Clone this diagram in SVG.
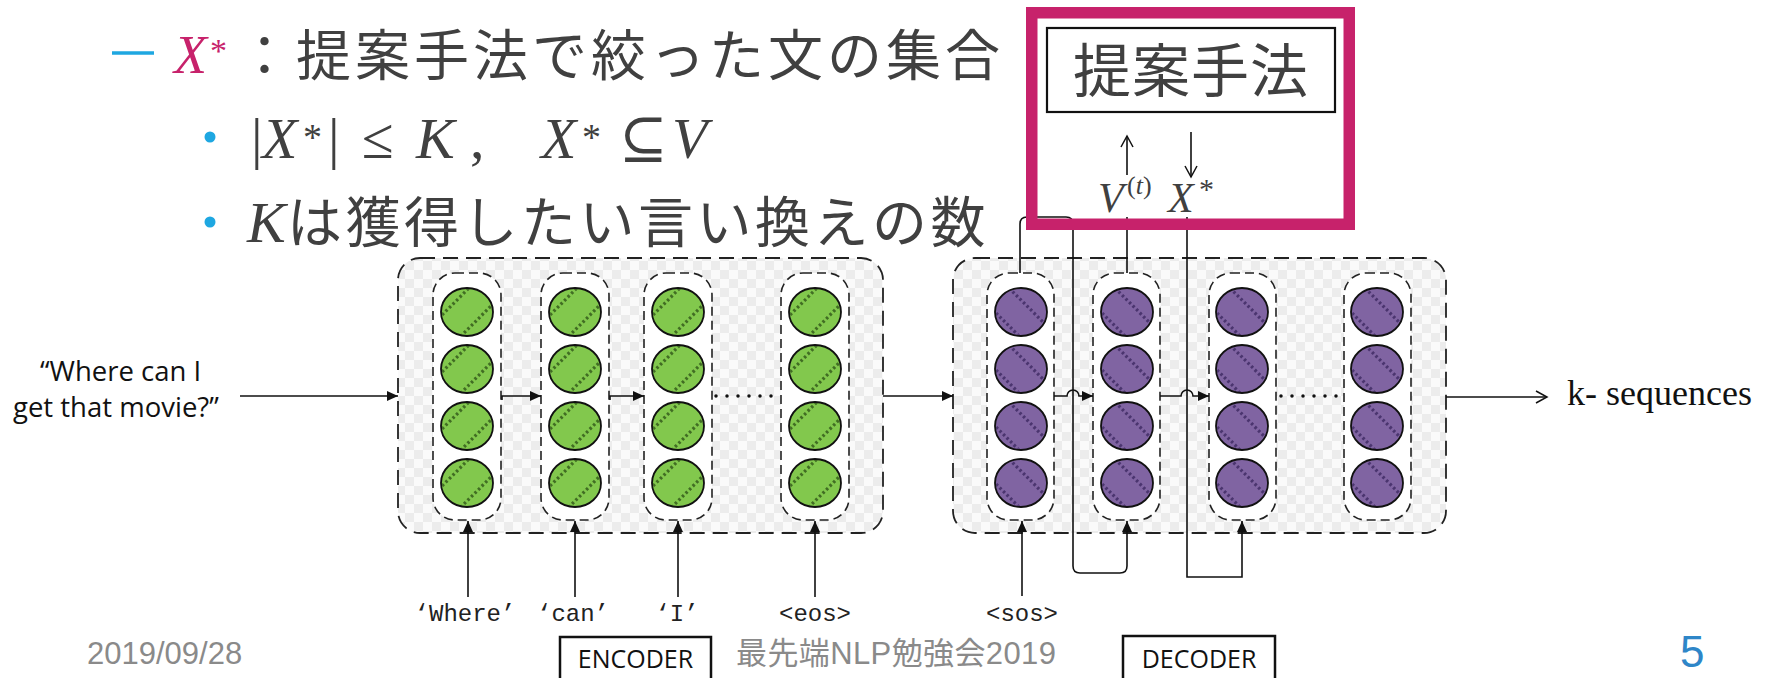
<svg xmlns="http://www.w3.org/2000/svg" width="1771" height="678" viewBox="0 0 1771 678">
<style>
.body{font-family:"Noto Sans CJK JP","Noto Sans",sans-serif;fill:#404040}
.math{font-family:"Liberation Serif","DejaVu Serif",serif;fill:#404040}
.it{font-style:italic}
.foot{font-family:"Liberation Sans","Noto Sans CJK JP",sans-serif;fill:#8a8a8a}
.mono{font-family:"Liberation Mono",monospace;font-size:24px;fill:#222;text-anchor:middle}
.cal{font-family:"Open Sans","Liberation Sans",sans-serif;fill:#111}
.outer{fill:url(#chk);stroke:#222;stroke-width:1.8;stroke-dasharray:15 8}
.col{fill:#fff;stroke:#222;stroke-width:1.6;stroke-dasharray:9 5}
.ln{fill:none;stroke:#111;stroke-width:1.6}
.lnf{fill:none;stroke:#111;stroke-width:1.6;marker-end:url(#fa)}
.lno{fill:none;stroke:#111;stroke-width:1.6;marker-end:url(#oa)}
.dot{fill:none;stroke:#111;stroke-width:3.5;stroke-dasharray:0 11;stroke-linecap:round}
</style>
<defs>
<pattern id="chk" width="18" height="18" patternUnits="userSpaceOnUse">
<rect width="18" height="18" fill="#fafafa"/>
<rect width="9" height="9" fill="#ececec"/>
<rect x="9" y="9" width="9" height="9" fill="#ececec"/>
</pattern>
<clipPath id="cc"><ellipse rx="25" ry="23"/></clipPath>
<marker id="fa" markerUnits="userSpaceOnUse" markerWidth="12" markerHeight="10" refX="11" refY="5" orient="auto">
<path d="M0,0 L11,5 L0,10 z" fill="#111"/>
</marker>
<marker id="oa" markerUnits="userSpaceOnUse" markerWidth="14" markerHeight="14" refX="12" refY="7" orient="auto">
<path d="M1,1 L12,7 L1,13" fill="none" stroke="#111" stroke-width="1.5"/>
</marker>
<g id="gc">
<ellipse rx="26" ry="24" fill="#82C84E"/>
<g clip-path="url(#cc)" stroke="#3a6320" stroke-width="3.2" stroke-dasharray="2.5 2.5" opacity="0.9">
<line x1="-32" y1="10" x2="10" y2="-32"/>
<line x1="-10" y1="28" x2="28" y2="-10"/>
</g>
<ellipse rx="26" ry="24" fill="none" stroke="#111" stroke-width="1.8"/>
</g>
<g id="pc">
<ellipse rx="26" ry="24" fill="#8064A2"/>
<g clip-path="url(#cc)" stroke="#45306a" stroke-width="3.2" stroke-dasharray="2.5 2.5" opacity="0.9">
<line x1="-12" y1="-24" x2="28" y2="16"/>
<line x1="-32" y1="-6" x2="6" y2="32"/>
</g>
<ellipse rx="26" ry="24" fill="none" stroke="#111" stroke-width="1.8"/>
</g>
</defs>
<rect width="1771" height="678" fill="#fff"/>

<g id="bullets">
<line x1="112" y1="53" x2="154" y2="53" stroke="#1EA7E1" stroke-width="3.5"/>
<text x="174" y="73" font-family="Liberation Serif,serif" font-size="54" font-style="italic" fill="#C7226B">X</text>
<text x="210" y="62" font-family="Liberation Serif,serif" font-size="34" fill="#C7226B">*</text>
<text class="body" x="237" y="75" font-size="55" letter-spacing="4">：提案手法で絞った文の集合</text>
<circle cx="210" cy="137" r="5.5" fill="#1EA7E1"/>
<text class="math" font-size="58">
<tspan x="251" y="158">|</tspan><tspan x="262" y="158" class="it">X</tspan><tspan x="303" y="150" font-size="38">*</tspan><tspan x="328" y="158">|</tspan><tspan x="362" y="158">≤</tspan><tspan x="416" y="158" class="it">K</tspan><tspan x="470" y="158">,</tspan><tspan x="541" y="158" class="it">X</tspan><tspan x="582" y="150" font-size="38">*</tspan><tspan x="619" y="158">⊆</tspan><tspan x="672" y="158" class="it">V</tspan>
</text>
<circle cx="210" cy="222" r="5.5" fill="#1EA7E1"/>
<text class="math it" x="247" y="242" font-size="58">K</text>
<text class="body" x="287" y="242" font-size="55" letter-spacing="3.5">は獲得したい言い換えの数</text>
</g>

<g id="encoder">
<rect class="outer" x="398" y="258" width="485" height="275" rx="22"/>
<rect class="col" x="433" y="273" width="68" height="247" rx="22"/>
<rect class="col" x="541" y="273" width="68" height="247" rx="22"/>
<rect class="col" x="644" y="273" width="68" height="247" rx="22"/>
<rect class="col" x="781" y="273" width="68" height="247" rx="22"/>
<use href="#gc" x="467" y="312"/><use href="#gc" x="467" y="369"/><use href="#gc" x="467" y="426"/><use href="#gc" x="467" y="483"/>
<use href="#gc" x="575" y="312"/><use href="#gc" x="575" y="369"/><use href="#gc" x="575" y="426"/><use href="#gc" x="575" y="483"/>
<use href="#gc" x="678" y="312"/><use href="#gc" x="678" y="369"/><use href="#gc" x="678" y="426"/><use href="#gc" x="678" y="483"/>
<use href="#gc" x="815" y="312"/><use href="#gc" x="815" y="369"/><use href="#gc" x="815" y="426"/><use href="#gc" x="815" y="483"/>
</g>

<g id="decoder">
<rect class="outer" x="953" y="258" width="493" height="275" rx="22"/>
<rect class="col" x="987" y="273" width="67" height="247" rx="22"/>
<rect class="col" x="1093" y="273" width="67" height="247" rx="22"/>
<rect class="col" x="1209" y="273" width="67" height="247" rx="22"/>
<rect class="col" x="1344" y="273" width="67" height="247" rx="22"/>
<use href="#pc" x="1021" y="312"/><use href="#pc" x="1021" y="369"/><use href="#pc" x="1021" y="426"/><use href="#pc" x="1021" y="483"/>
<use href="#pc" x="1127" y="312"/><use href="#pc" x="1127" y="369"/><use href="#pc" x="1127" y="426"/><use href="#pc" x="1127" y="483"/>
<use href="#pc" x="1242" y="312"/><use href="#pc" x="1242" y="369"/><use href="#pc" x="1242" y="426"/><use href="#pc" x="1242" y="483"/>
<use href="#pc" x="1377" y="312"/><use href="#pc" x="1377" y="369"/><use href="#pc" x="1377" y="426"/><use href="#pc" x="1377" y="483"/>
</g>

<g id="connectors">
<line class="lnf" x1="240" y1="396" x2="398" y2="396"/>
<path class="lnf" d="M502,400 V396 H541"/>
<path class="lnf" d="M610,400 V396 H644"/>
<line class="dot" x1="716" y1="396" x2="778" y2="396"/>
<line class="lnf" x1="883" y1="396" x2="953" y2="396"/>
<path class="lnf" d="M1054,396 H1067 A6,6 0 0 1 1079,396 H1093"/>
<path class="lnf" d="M1160,396 H1181 A6,6 0 0 1 1193,396 H1209"/>
<line class="dot" x1="1281" y1="396" x2="1340" y2="396"/>
<line class="lno" x1="1446" y1="397" x2="1547" y2="397"/>
<line class="lnf" x1="468" y1="597" x2="468" y2="521"/>
<line class="lnf" x1="575" y1="597" x2="575" y2="521"/>
<line class="lnf" x1="678" y1="597" x2="678" y2="521"/>
<line class="lnf" x1="815" y1="597" x2="815" y2="521"/>
<line class="lnf" x1="1022" y1="596" x2="1022" y2="521"/>
<path class="lnf" d="M1020,273 V224 Q1020,217 1027,217 H1066 Q1073,217 1073,224 V566 Q1073,573 1080,573 H1120 Q1127,573 1127,566 V521"/>
<path class="ln" d="M1127,273 V217"/>
<path class="lnf" d="M1187,217 V577 H1242 V521"/>
<line class="lno" x1="1127" y1="175" x2="1127" y2="136"/>
<line class="lno" x1="1191" y1="132" x2="1191" y2="177"/>
</g>

<g id="method">
<rect x="1031.75" y="12.75" width="317.5" height="211.5" fill="none" stroke="#C7226B" stroke-width="11.5"/>
<rect x="1047" y="28" width="288" height="84" fill="#fff" stroke="#111" stroke-width="2.2"/>
<text class="body" x="1191" y="92" font-size="58" text-anchor="middle" letter-spacing="1">提案手法</text>
<text class="math it" x="1098" y="212" font-size="42" fill="#111">V</text>
<text class="math" x="1127" y="194" font-size="26" fill="#111">(<tspan class="it">t</tspan>)</text>
<text class="math it" x="1168" y="212" font-size="42" fill="#111">X</text>
<text class="math" x="1199" y="199" font-size="30" fill="#111">*</text>
</g>

<g id="labels">
<text class="cal" x="40" y="381" font-size="27.5">“Where can I</text>
<text class="cal" x="13" y="417" font-size="27.5">get that movie?”</text>
<text x="1567" y="405" font-family="Liberation Serif,serif" font-size="36" fill="#111">k- sequences</text>
<text class="mono" x="465" y="621">‘Where’</text>
<text class="mono" x="573" y="621">‘can’</text>
<text class="mono" x="677" y="621">‘I’</text>
<text class="mono" x="815" y="621">&lt;eos&gt;</text>
<text class="mono" x="1022" y="621">&lt;sos&gt;</text>
</g>

<g id="enc-box">
<rect x="560" y="637" width="151" height="50" fill="#fff" stroke="#111" stroke-width="2.5"/>
<text class="cal" x="635.5" y="668" font-size="25" text-anchor="middle">ENCODER</text>
</g>
<g id="dec-box">
<rect x="1123" y="636" width="152" height="50" fill="#fff" stroke="#111" stroke-width="2.5"/>
<text class="cal" x="1199" y="668" font-size="25" text-anchor="middle">DECODER</text>
</g>

<g id="footer">
<text class="foot" x="87" y="664" font-size="31">2019/09/28</text>
<text class="foot" x="736" y="664" font-size="31" textLength="320">最先端NLP勉強会2019</text>
<text x="1680" y="667" font-family="Liberation Sans,sans-serif" font-size="44" fill="#2E86C8">5</text>
</g>
</svg>
